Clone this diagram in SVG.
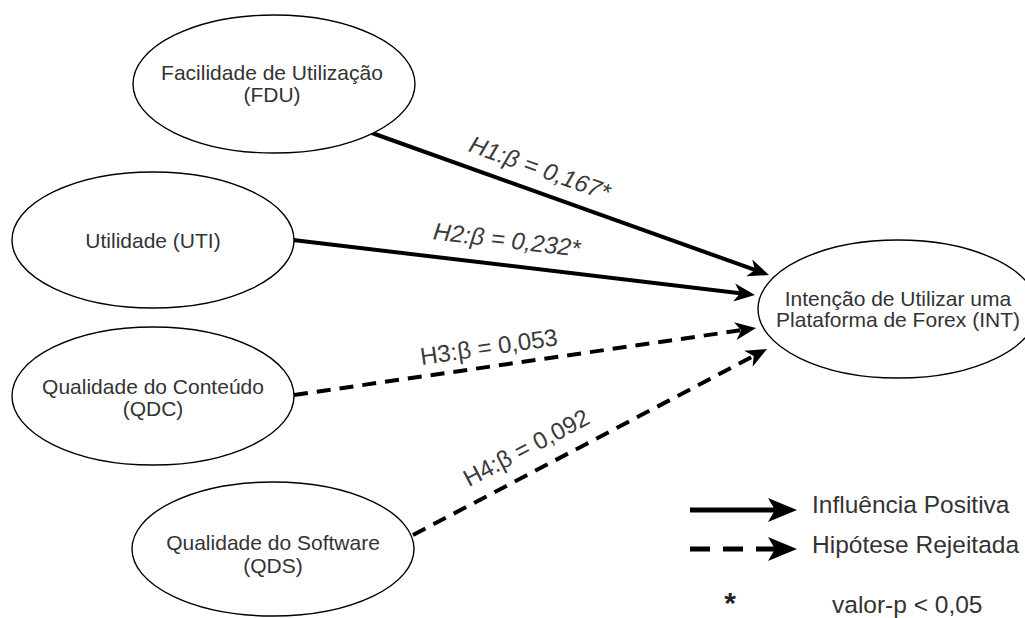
<svg xmlns="http://www.w3.org/2000/svg" width="1025" height="618" viewBox="0 0 1025 618">
  <style>
    .node ellipse { fill: #ffffff; stroke: #000000; stroke-width: 1.4; }
    .nt { font-family: "Liberation Sans", Arial, sans-serif; font-size: 21px; fill: #333333; text-anchor: middle; }
    .edge { fill: none; stroke: #000000; stroke-width: 4; }
    .dash { stroke-dasharray: 14 9; }
    .lbl { font-family: "Liberation Sans", Arial, sans-serif; font-size: 24px; fill: #3a3a3a; text-anchor: middle; }
    .it { font-style: italic; }
    .leg { font-family: "Liberation Sans", Arial, sans-serif; font-size: 24.5px; fill: #333333; }
    .legline { fill: none; stroke: #000000; stroke-width: 5; }
  </style>
  <defs>
    <marker id="arr" markerUnits="userSpaceOnUse" viewBox="0 -10 24 20" markerWidth="24" markerHeight="20" refX="6" refY="0" orient="auto" overflow="visible">
      <path d="M0,-9 L21,0 L0,9 L6,0 Z" fill="#000000" stroke="none"/>
    </marker>
    <marker id="arrL" markerUnits="userSpaceOnUse" viewBox="0 -12 30 24" markerWidth="30" markerHeight="24" refX="7" refY="0" orient="auto" overflow="visible">
      <path d="M0,-12 L29,0 L0,12 L7,0 Z" fill="#000000" stroke="none"/>
    </marker>
  </defs>

  <rect x="0" y="0" width="1025" height="618" fill="#ffffff"/>

  <g id="connectors">
    <path class="edge" d="M372,133 L754.9,269.9" marker-end="url(#arr)"/>
    <path class="edge" d="M293,240 L740.1,293.2" marker-end="url(#arr)"/>
    <path class="edge dash" d="M294,395 L741.2,330.2" marker-end="url(#arr)"/>
    <path class="edge dash" d="M413,535 L753.7,356.0" marker-end="url(#arr)"/>
    <text class="lbl it" transform="translate(537,176) rotate(19.7)">H1:β = 0,167*</text>
    <text class="lbl it" transform="translate(506,248) rotate(6.8)">H2:β = 0,232*</text>
    <text class="lbl" transform="translate(490,355) rotate(-8.2)">H3:β = 0,053</text>
    <text class="lbl" transform="translate(530,455) rotate(-27.7)">H4:β = 0,092</text>
  </g>

  <g id="FDU" class="node">
    <ellipse cx="274" cy="84" rx="141" ry="69"/>
    <text class="nt" x="272" y="80">Facilidade de Utilização</text>
    <text class="nt" x="272" y="102">(FDU)</text>
  </g>
  <g id="UTI" class="node">
    <ellipse cx="153" cy="240" rx="141" ry="68"/>
    <text class="nt" x="153" y="248">Utilidade (UTI)</text>
  </g>
  <g id="QDC" class="node">
    <ellipse cx="153" cy="396" rx="141" ry="69"/>
    <text class="nt" x="153" y="394">Qualidade do Conteúdo</text>
    <text class="nt" x="153" y="416">(QDC)</text>
  </g>
  <g id="QDS" class="node">
    <ellipse cx="273" cy="549" rx="141" ry="67"/>
    <text class="nt" x="273" y="550">Qualidade do Software</text>
    <text class="nt" x="273" y="573">(QDS)</text>
  </g>
  <g id="INT" class="node">
    <ellipse cx="898" cy="309" rx="140" ry="69"/>
    <text class="nt" x="898" y="306">Intenção de Utilizar uma</text>
    <text class="nt" x="898" y="327">Plataforma de Forex (INT)</text>
  </g>

  <g id="legend">
    <path class="legline" d="M690,510 L775,510" marker-end="url(#arrL)"/>
    <text class="leg" x="812" y="513">Influência Positiva</text>
    <path class="legline" d="M690,549 L775,549" stroke-dasharray="20 13" marker-end="url(#arrL)"/>
    <text class="leg" x="812" y="553">Hipótese Rejeitada</text>
    <text x="730" y="613" font-family="Liberation Sans, Arial, sans-serif" font-size="30" font-weight="bold" fill="#222222" text-anchor="middle">*</text>
    <text class="leg" x="832" y="613">valor-p &lt; 0,05</text>
  </g>
</svg>
